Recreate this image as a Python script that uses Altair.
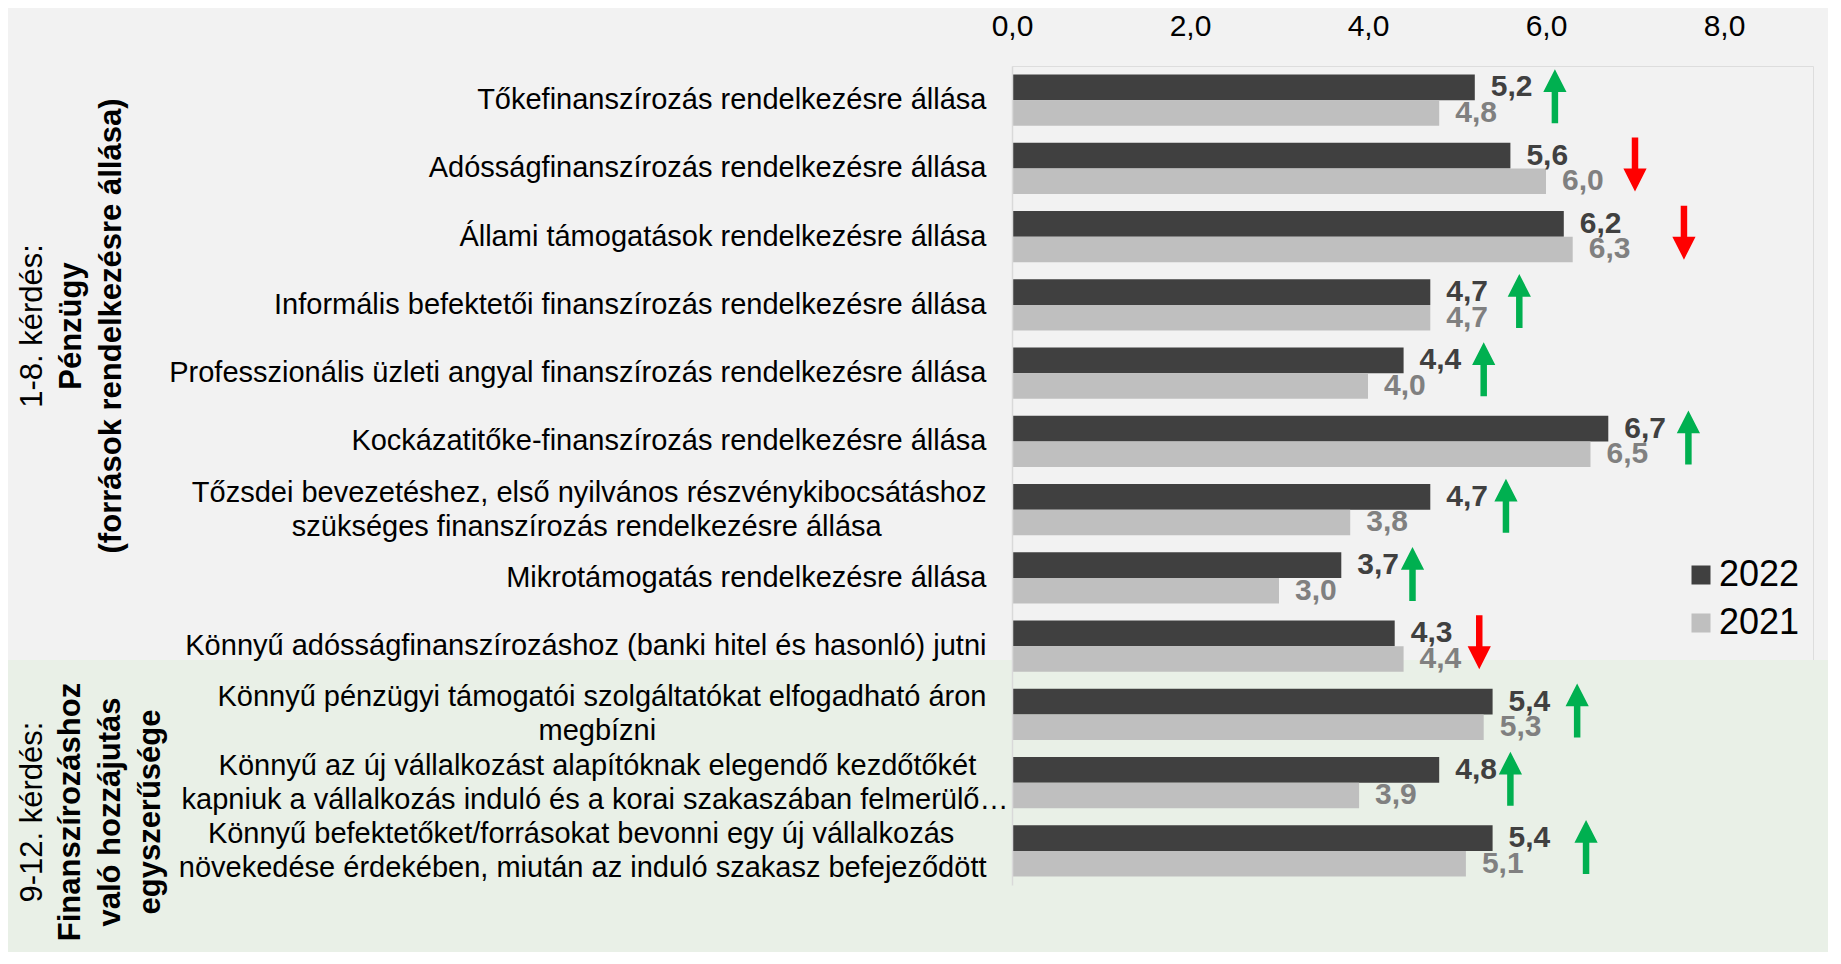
import altair as alt
import pandas as pd

# ---------------- data ----------------
categories = [
    "Tőkefinanszírozás rendelkezésre állása",
    "Adósságfinanszírozás rendelkezésre állása",
    "Állami támogatások rendelkezésre állása",
    "Informális befektetői finanszírozás rendelkezésre állása",
    "Professzionális üzleti angyal finanszírozás rendelkezésre állása",
    "Kockázatitőke-finanszírozás rendelkezésre állása",
    "Tőzsdei bevezetéshez, első nyilvános részvénykibocsátáshoz\nszükséges finanszírozás rendelkezésre állása",
    "Mikrotámogatás rendelkezésre állása",
    "Könnyű adósságfinanszírozáshoz (banki hitel és hasonló) jutni",
    "Könnyű pénzügyi támogatói szolgáltatókat elfogadható áron\nmegbízni",
    "Könnyű az új vállalkozást alapítóknak elegendő kezdőtőkét\nkapniuk a vállalkozás induló és a korai szakaszában felmerülő…",
    "Könnyű befektetőket/forrásokat bevonni egy új vállalkozás\nnövekedése érdekében, miután az induló szakasz befejeződött",
]
years = ["2022", "2021"]
values_2022 = [5.2, 5.6, 6.2, 4.7, 4.4, 6.7, 4.7, 3.7, 4.3, 5.4, 4.8, 5.4]
values_2021 = [4.8, 6.0, 6.3, 4.7, 4.0, 6.5, 3.8, 3.0, 4.4, 5.3, 3.9, 5.1]
arrow_pos = [6.1, 7.0, 7.55, 5.7, 5.3, 7.6, 5.55, 4.5, 5.25, 6.35, 5.6, 6.45]
arrow_dir = ["up", "down", "down", "up", "up", "up", "up", "up", "down", "up", "up", "up"]
x_ticks = [0, 2, 4, 6, 8]

group1_lines = ["1-8. kérdés:", "Pénzügy", "(források rendelkezésre állása)"]
group2_lines = ["9-12. kérdés:", "Finanszírozáshoz", "való hozzájutás", "egyszerűsége"]

# ---------------- styling helpers ----------------
FONT = "Liberation Sans"
NBSP = "\u00a0"
ZWSP = "\u200b"  # keeps the trailing no-break spaces from being trimmed
# trailing no-break spaces so that right-aligned two-line labels look centred
line_pad = {6: [0, 13], 9: [0, 41], 10: [4, 0], 11: [4, 0]}


def display_label(i, text):
    lines = text.split("\n")
    pads = line_pad.get(i, [0] * len(lines))
    return "\n".join(l + (NBSP * p + ZWSP if p else "") for l, p in zip(lines, pads))


labels = [display_label(i, c) for i, c in enumerate(categories)]

rows = []
for i, lab in enumerate(labels):
    rows.append({"cat": lab, "year": "2022", "value": values_2022[i]})
    rows.append({"cat": lab, "year": "2021", "value": values_2021[i]})
bars_df = pd.DataFrame(rows)

arrows_df = pd.DataFrame({"cat": labels, "pos": arrow_pos, "dir": arrow_dir})

y_enc = alt.Y(
    "cat:N",
    sort=labels,
    scale=alt.Scale(paddingInner=0.25, paddingOuter=0.125),
    axis=alt.Axis(
        title=None,
        ticks=False,
        grid=False,
        zindex=1,
        domainColor="#d9d9d9",
        domainWidth=1.5,
        labelFont=FONT,
        labelFontSize=29,
        labelColor="#000000",
        labelPadding={"condition": {"test": "indexof(datum.value, 'kapniuk') >= 0", "value": 4}, "value": 26},
        labelLimit=0,
        labelLineHeight=34,
        labelOverlap=False,
        labelBound=False,
        labelOffset={"condition": {"test": "indexof(datum.value, '\\n') >= 0", "value": -17}, "value": 0},
        labelExpr="split(datum.label, '\\n')",
    ),
)
x_scale = alt.Scale(domain=[0, 9], nice=False, zero=True)
x_axis = alt.Axis(
    orient="top",
    title=None,
    values=x_ticks,
    labelExpr="replace(format(datum.value, '.1f'), '.', ',')",
    domain=False,
    ticks=False,
    grid=False,
    zindex=1,
    labelFont=FONT,
    labelFontSize=30,
    labelColor="#000000",
    labelPadding=25,
    labelFlush=False,
)
y_off = alt.YOffset("year:N", sort=years)

one = pd.DataFrame({"k": [0]})

green_bg = alt.Chart(one).mark_rect(color="#e9f0e7").encode(
    x=alt.value(-1004), x2=alt.value(816), y=alt.value(594), y2=alt.value(886)
)

bars = alt.Chart(bars_df).mark_bar().encode(
    x=alt.X("value:Q", scale=x_scale, axis=x_axis),
    y=y_enc,
    yOffset=y_off,
    color=alt.Color(
        "year:N",
        scale=alt.Scale(domain=years, range=["#404040", "#bfbfbf"]),
        legend=alt.Legend(
            title=None,
            orient="none",
            legendX=671,
            legendY=491,
            symbolType="square",
            symbolSize=361,
            symbolStrokeWidth=0,
            labelFont=FONT,
            labelFontSize=36,
            labelColor="#000000",
            labelOffset=0,
            rowPadding=12,
            padding=0,
        ),
    ),
)

value_labels = alt.Chart(bars_df).transform_calculate(
    lab="replace(format(datum.value, '.1f'), '.', ',')"
).mark_text(
    align="left", baseline="middle", dx=16, font=FONT, fontSize=30, fontWeight="bold"
).encode(
    x=alt.X("value:Q", scale=x_scale, axis=x_axis),
    y=y_enc,
    yOffset=y_off,
    text="lab:N",
    color=alt.condition(alt.datum.year == "2022", alt.value("#404040"), alt.value("#808080")),
)

UP = "M0,-1L0.43,-0.15L0.12,-0.15L0.12,1L-0.12,1L-0.12,-0.15L-0.43,-0.15Z"
DOWN = "M0,1L0.43,0.15L0.12,0.15L0.12,-1L-0.12,-1L-0.12,0.15L-0.43,0.15Z"

arrows_up = alt.Chart(arrows_df).transform_filter(alt.datum.dir == "up").mark_point(
    shape=UP, filled=True, size=2916, opacity=1, strokeWidth=0, yOffset=-4
).encode(
    x=alt.X("pos:Q", scale=x_scale, axis=x_axis),
    y=y_enc,
    color=alt.value("#00b050"),
)
arrows_down = alt.Chart(arrows_df).transform_filter(alt.datum.dir == "down").mark_point(
    shape=DOWN, filled=True, size=2916, opacity=1, strokeWidth=0, yOffset=-4
).encode(
    x=alt.X("pos:Q", scale=x_scale, axis=x_axis),
    y=y_enc,
    color=alt.value("#ff0000"),
)


def title_line(txt, xpos, ypos, bold):
    return alt.Chart(one).mark_text(
        text=txt,
        angle=270,
        align="center",
        baseline="middle",
        font=FONT,
        fontSize=31,
        fontWeight="bold" if bold else "normal",
        color="#000000",
    ).encode(x=alt.value(xpos), y=alt.value(ypos))


g1_x = [-979, -940, -900]
g2_x = [-979, -941, -901, -861]
titles = []
for j, t in enumerate(group1_lines):
    titles.append(title_line(t, g1_x[j], 260, j > 0))
for j, t in enumerate(group2_lines):
    titles.append(title_line(t, g2_x[j], 746, j > 0))

chart = alt.layer(green_bg, bars, value_labels, arrows_up, arrows_down, *titles).properties(
    width=801,
    height=819,
    autosize=alt.AutoSizeParams(type="none"),
    padding={"left": 1004, "top": 58, "right": 15, "bottom": 67},
    background="#f2f2f2",
).configure_view(stroke=None).configure(font=FONT)

chart.save("out.html", embed_options={"renderer": "svg", "actions": False})
